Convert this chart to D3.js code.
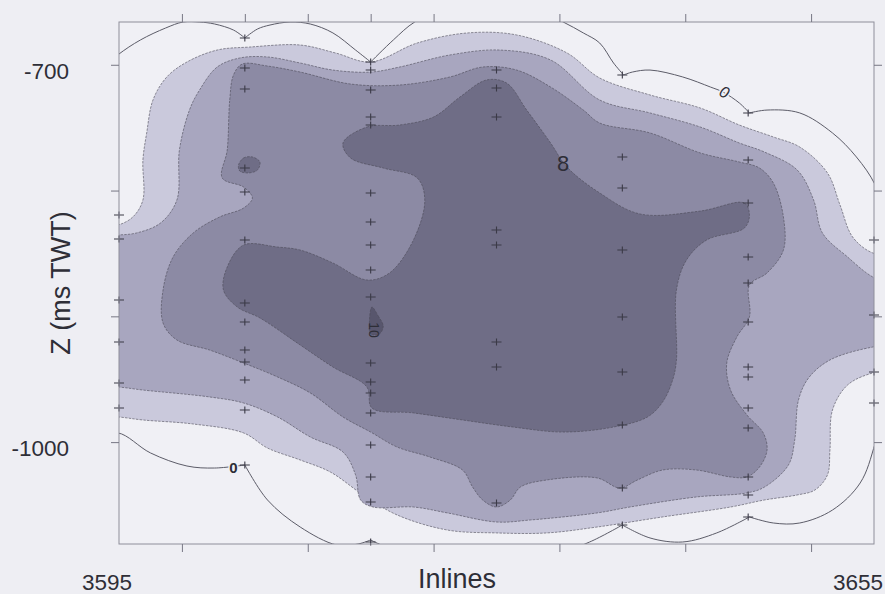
<!DOCTYPE html>
<html>
<head>
<meta charset="utf-8">
<script src="https://cdn.jsdelivr.net/npm/d3@7"></script>
<style>
  html, body { margin: 0; padding: 0; background: #eeeef3; }
  svg { display: block; }
  text { font-family: "Liberation Sans", Arial, Helvetica, sans-serif; fill: #2e2e37; }
</style>
</head>
<body>
<svg id="chart" width="885" height="594"></svg>
<script>
// ---- axes ----
const inlineDomain = [3595, 3655];
const twtDomain = [-1081, -666];
const xEndLabels = [3595, 3655];
const xTicks = [3600, 3610, 3620, 3630, 3640, 3650];
const xTopTicks = [3600, 3605, 3610, 3615, 3620, 3630, 3640, 3650];
const yTicks = [-700, -800, -900, -1000];
const yTickLabels = [-700, -1000];
const xTitle = "Inlines";
const yTitle = "Z (ms TWT)";

// ---- contour outlines, [inline, TWT ms] ----
const contour2 = [
  [3593.5,-980.0],[3594.9,-980.0],[3596.9,-982.4],[3600.9,-985.6],[3604.9,-992.7],[3606.8,-1004.7],
  [3609.4,-1014.2],[3611.8,-1023.8],[3614.4,-1042.0],[3617.1,-1057.9],[3621.1,-1069.9],[3625.0,-1072.2],
  [3629.0,-1072.2],[3633.0,-1067.5],[3638.2,-1059.5],[3643.6,-1051.6],[3646.3,-1046.0],[3648.9,-1042.0],
  [3650.3,-1038.1],[3651.3,-1026.1],[3651.5,-1006.3],[3651.7,-974.5],[3652.9,-954.6],[3654.9,-945.0],
  [3656.7,-942.7],[3656.7,-851.2],[3654.9,-849.6],[3653.3,-836.9],[3652.3,-811.5],[3651.3,-786.0],
  [3649.1,-765.4],[3647.0,-757.4],[3644.3,-747.9],[3641.2,-734.4],[3637.2,-724.0],[3633.2,-710.5],
  [3630.6,-690.6],[3626.6,-676.3],[3622.7,-674.7],[3618.7,-682.7],[3615.0,-697.8],[3612.2,-690.6],
  [3609.4,-684.3],[3605.4,-685.9],[3602.8,-688.3],[3600.4,-697.8],[3598.8,-709.7],[3597.7,-728.0],
  [3597.2,-754.2],[3596.9,-775.7],[3596.9,-807.5],[3596.1,-821.0],[3594.9,-827.4],[3593.5,-827.4]
];
const contour4 = [
  [3592.7,-956.2],[3594.9,-956.2],[3596.9,-958.6],[3602.2,-964.1],[3604.9,-968.9],[3607.6,-980.0],
  [3610.2,-995.9],[3612.8,-1007.9],[3613.8,-1026.1],[3614.2,-1046.0],[3615.2,-1051.6],[3618.4,-1051.6],
  [3621.1,-1056.3],[3625.0,-1063.5],[3627.7,-1061.9],[3633.0,-1056.3],[3635.6,-1051.6],[3640.9,-1043.6],
  [3644.9,-1040.4],[3646.3,-1035.7],[3648.2,-1018.2],[3648.7,-998.3],[3649.0,-966.5],[3649.8,-949.0],
  [3651.5,-934.7],[3654.9,-924.4],[3656.7,-922.8],[3656.7,-875.1],[3654.9,-868.7],[3652.9,-852.8],
  [3650.9,-833.7],[3650.2,-807.5],[3648.9,-783.7],[3646.3,-769.4],[3644.3,-762.2],[3641.2,-749.5],
  [3637.2,-738.3],[3633.2,-728.0],[3629.3,-696.2],[3625.3,-688.3],[3621.3,-692.2],[3617.3,-701.8],
  [3615.0,-705.8],[3612.0,-704.2],[3609.4,-698.6],[3606.8,-693.8],[3604.6,-694.6],[3602.8,-701.8],
  [3601.4,-720.1],[3600.6,-736.0],[3599.8,-767.8],[3599.6,-807.5],[3598.3,-825.8],[3596.4,-833.7],
  [3594.9,-835.3],[3592.7,-835.3]
];
const contour6 = [
  [3603.6,-767.8],[3603.8,-728.0],[3604.1,-708.1],[3604.8,-699.4],[3606.8,-701.0],[3609.4,-705.8],
  [3613.4,-715.3],[3617.3,-716.1],[3621.3,-709.7],[3623.9,-701.8],[3626.6,-704.2],[3629.3,-717.7],
  [3631.9,-736.0],[3633.2,-746.3],[3637.2,-754.2],[3641.2,-770.1],[3644.3,-777.3],[3645.9,-782.1],
  [3647.0,-794.0],[3647.8,-821.0],[3647.8,-847.3],[3646.5,-865.5],[3645.1,-875.1],[3645.1,-900.5],
  [3644.1,-916.4],[3643.3,-937.1],[3643.6,-958.6],[3644.9,-978.4],[3646.2,-992.7],[3646.5,-1006.3],
  [3645.9,-1019.8],[3644.9,-1027.7],[3643.6,-1027.7],[3640.9,-1022.2],[3638.2,-1022.2],[3636.2,-1030.1],
  [3634.8,-1036.5],[3633.0,-1028.5],[3629.0,-1030.1],[3626.9,-1035.7],[3626.1,-1046.0],[3625.0,-1051.6],
  [3623.9,-1046.0],[3623.1,-1035.7],[3622.3,-1022.2],[3619.7,-1011.8],[3617.1,-1003.9],[3615.0,-992.0],
  [3612.8,-980.0],[3610.2,-960.9],[3607.6,-948.2],[3604.9,-937.1],[3602.2,-926.8],[3599.6,-918.8],
  [3598.5,-905.3],[3598.5,-879.1],[3599.3,-852.8],[3600.9,-833.7],[3603.0,-821.0],[3604.9,-813.9],
  [3605.6,-805.9],[3604.9,-797.2],[3603.2,-790.0]
];
const contour8 = [
  [3612.8,-762.2],[3614.7,-749.5],[3617.3,-747.9],[3620.0,-741.5],[3622.1,-725.6],[3624.2,-712.1],
  [3625.8,-714.5],[3627.4,-736.0],[3629.3,-762.2],[3630.6,-781.3],[3633.2,-801.9],[3636.4,-818.6],
  [3641.2,-816.3],[3644.7,-809.9],[3645.1,-819.4],[3644.7,-829.8],[3641.7,-839.3],[3640.1,-855.2],
  [3639.3,-879.1],[3639.3,-934.7],[3639.0,-950.6],[3638.2,-968.1],[3637.0,-980.0],[3634.3,-988.0],
  [3630.3,-992.0],[3626.3,-988.0],[3622.3,-982.4],[3618.4,-976.8],[3615.1,-972.9],[3614.7,-956.2],
  [3612.0,-940.3],[3609.4,-922.8],[3606.2,-901.3],[3604.4,-892.6],[3603.3,-879.1],[3603.6,-860.8],
  [3604.9,-843.3],[3607.6,-844.9],[3609.4,-847.3],[3612.0,-857.6],[3614.7,-871.1],[3616.5,-865.5],
  [3618.4,-839.3],[3619.3,-807.5],[3618.7,-790.0],[3616.0,-782.1],[3613.4,-774.1]
];
const contour8b = [
  [3604.5,-779.7],[3604.9,-774.1],[3605.6,-773.3],[3606.2,-777.3],[3606.0,-783.7],[3605.3,-786.0],[3604.6,-784.5]
];
const contour10 = [
  [3615.1,-892.6],[3615.6,-899.7],[3616.0,-907.7],[3615.7,-914.0],[3615.0,-914.0],[3614.9,-904.5]
];

// zero contour, drawn as arcs that meet at sample points
const zeroContour = [
  [[3593.1,-998.3],[3594.9,-992.7],[3597.5,-1008.6],[3600.4,-1019.0],[3602.6,-1020.6],[3605.0,-1018.2]],
  [[3605.0,-1018.2],[3606.8,-1046.0],[3609.4,-1067.5],[3612.3,-1081.8],[3614.0,-1081.0],[3615.0,-1077.8]],
  [[3615.0,-1077.8],[3616.1,-1082.6],[3618.9,-1087.4],[3630.0,-1087.4],[3632.4,-1079.4],[3635.0,-1065.9]],
  [[3635.0,-1065.9],[3637.2,-1076.2],[3639.8,-1079.4],[3642.5,-1072.2],[3645.1,-1059.5]],
  [[3645.1,-1059.5],[3647.0,-1064.3],[3649.1,-1064.3],[3651.7,-1054.0],[3653.9,-1032.5],[3655.1,-1000.7],
   [3656.3,-950.6],[3656.7,-887.0],[3656.3,-831.4],[3655.1,-795.6],[3653.6,-773.3],[3651.7,-754.2],
   [3649.1,-738.3],[3646.5,-736.0],[3645.1,-738.3]],
  [[3645.1,-738.3],[3644.3,-730.4],[3643.0,-721.7],[3642.0,-717.7],[3639.8,-709.7],[3637.2,-704.2],
   [3635.8,-705.8],[3635.1,-708.1]],
  [[3635.1,-708.1],[3634.3,-698.6],[3633.2,-682.7],[3631.9,-674.7],[3630.3,-666.0],[3628.5,-658.0],
   [3620.5,-658.0],[3618.5,-666.0],[3616.8,-680.3],[3615.0,-697.8]],
  [[3615.0,-697.8],[3613.8,-688.3],[3612.0,-674.7],[3610.2,-667.6],[3608.6,-666.0],[3607.0,-668.4],
   [3606.0,-671.6],[3605.0,-678.7]],
  [[3605.0,-678.7],[3604.1,-672.4],[3602.6,-667.6],[3601.4,-666.0],[3600.1,-666.0],[3598.7,-670.8],
   [3596.7,-680.3],[3594.9,-692.2],[3593.1,-708.1]]
];

// sample points along the interpreted inlines
const sampleInlines = [3595, 3605, 3615, 3625, 3635, 3645, 3655];
const sampleTwt = [
  [-819.4,-838.5,-887.0,-920.4,-953.0,-972.9],
  [-678.7,-702.6,-719.3,-782.1,-801.2,-839.3,-889.4,-904.5,-926.8,-936.3,-950.6,-974.5,-1018.2],
  [-697.8,-704.2,-720.1,-741.5,-747.9,-801.9,-825.0,-843.3,-863.2,-884.6,-937.1,-952.2,-960.9,-976.8,-1002.3,-1027.7,-1047.6,-1079.4],
  [-704.2,-718.5,-741.5,-831.4,-843.3,-920.4,-940.3,-1048.4],
  [-708.1,-773.3,-798.0,-847.3,-900.5,-944.3,-986.4,-1036.5,-1065.9],
  [-738.3,-775.7,-809.9,-852.8,-873.5,-904.5,-940.3,-948.2,-972.9,-988.8,-1027.7,-1042.0,-1059.5],
  [-839.3,-898.9,-944.3,-968.9]
];

// contour value labels
const labelText = ["0", "0", "8", "10"];
const labelInline = [3604.1, 3643.1, 3630.3, 3615.3];
const labelTwt = [-1019.8, -721.7, -778.1, -910.9];

// ---- drawing ----
const plot = { left: 119, right: 874, top: 22, bottom: 544 };
const svg = d3.select("#chart");

const x = d3.scaleLinear().domain(inlineDomain).range([plot.left, plot.right]);
const y = d3.scaleLinear().domain(twtDomain).range([plot.bottom, plot.top]);

svg.append("rect").attr("width", 885).attr("height", 594).attr("fill", "#eeeef3");

svg.append("defs").append("clipPath").attr("id", "plotClip")
  .append("rect")
  .attr("x", plot.left).attr("y", plot.top)
  .attr("width", plot.right - plot.left).attr("height", plot.bottom - plot.top);

const area = svg.append("g").attr("clip-path", "url(#plotClip)");

area.append("rect")
  .attr("x", plot.left).attr("y", plot.top)
  .attr("width", plot.right - plot.left).attr("height", plot.bottom - plot.top)
  .attr("fill", "#f0f0f5");

const closedLine = d3.line()
  .x(d => x(d[0])).y(d => y(d[1]))
  .curve(d3.curveCatmullRomClosed.alpha(0.5));

const bands = [
  { pts: contour2,  fill: "#cac9dc" },
  { pts: contour4,  fill: "#a8a6bf" },
  { pts: contour6,  fill: "#8c8aa4" },
  { pts: contour8,  fill: "#6f6d86" },
  { pts: contour8b, fill: "#6f6d86" },
  { pts: contour10, fill: "#58566d" }
];

area.selectAll("path.band")
  .data(bands)
  .join("path")
  .attr("class", "band")
  .attr("d", d => closedLine(d.pts))
  .attr("fill", d => d.fill)
  .attr("stroke", "#4b4a58")
  .attr("stroke-width", 0.8)
  .attr("stroke-dasharray", "2.5,1.2")
  .attr("stroke-opacity", 0.75);

const openLine = d3.line()
  .x(d => x(d[0])).y(d => y(d[1]))
  .curve(d3.curveCatmullRom.alpha(0.5));

area.selectAll("path.zero")
  .data(zeroContour)
  .join("path")
  .attr("class", "zero")
  .attr("d", openLine)
  .attr("fill", "none")
  .attr("stroke", "#5c5c68")
  .attr("stroke-width", 1);

// sample crosses
const marks = svg.append("g").attr("stroke", "#3b3a47").attr("stroke-width", 1.1);
sampleInlines.forEach((il, i) => {
  sampleTwt[i].forEach(t => {
    const px = x(il), py = y(t);
    marks.append("path").attr("d", `M${px - 5},${py}H${px + 5}M${px},${py - 3.5}V${py + 3.5}`);
  });
});

// contour labels
const labelStyle = [
  { size: 15, weight: "bold", style: "normal", rot: 0 },
  { size: 16, weight: "normal", style: "italic", rot: 25 },
  { size: 22, weight: "normal", style: "normal", rot: 0 },
  { size: 14, weight: "normal", style: "normal", rot: 90 }
];
labelText.forEach((txt, i) => {
  const s = labelStyle[i];
  svg.append("text")
    .attr("transform", `translate(${x(labelInline[i])},${y(labelTwt[i])}) rotate(${s.rot})`)
    .attr("text-anchor", "middle")
    .attr("dominant-baseline", "central")
    .attr("font-size", s.size)
    .attr("font-weight", s.weight)
    .attr("font-style", s.style)
    .style("paint-order", "stroke")
    .attr("stroke", i === 2 || i === 3 ? "none" : "#f0f0f5")
    .attr("stroke-width", 3)
    .text(txt);
});

// frame and ticks
svg.append("rect")
  .attr("x", plot.left).attr("y", plot.top)
  .attr("width", plot.right - plot.left).attr("height", plot.bottom - plot.top)
  .attr("fill", "none").attr("stroke", "#8e8e9a").attr("stroke-width", 1);

function styleAxis(g) {
  g.select(".domain").remove();
  g.selectAll(".tick line").attr("stroke", "#777784").attr("stroke-width", 1);
  g.selectAll(".tick text").remove();
}
svg.append("g").attr("transform", `translate(0,${plot.bottom})`)
  .call(d3.axisBottom(x).tickValues(xTicks).tickSize(8).tickFormat(""))
  .call(styleAxis);
svg.append("g").attr("transform", `translate(0,${plot.top})`)
  .call(d3.axisTop(x).tickValues(xTopTicks).tickSize(8).tickFormat(""))
  .call(styleAxis);
svg.append("g").attr("transform", `translate(${plot.left},0)`)
  .call(d3.axisLeft(y).tickValues(yTicks).tickSize(8).tickFormat(""))
  .call(styleAxis);
svg.append("g").attr("transform", `translate(${plot.right},0)`)
  .call(d3.axisRight(y).tickValues(yTicks).tickSize(8).tickFormat(""))
  .call(styleAxis);

// tick labels
svg.selectAll("text.ylab")
  .data(yTickLabels)
  .join("text")
  .attr("class", "ylab")
  .attr("x", 69)
  .attr("y", d => y(d) + 14)
  .attr("text-anchor", "end")
  .attr("font-size", 22.5)
  .text(d => d);

// end labels of the inline range: first centred under its edge, last kept inside the page
svg.selectAll("text.xlab")
  .data(xEndLabels)
  .join("text")
  .attr("class", "xlab")
  .attr("x", (d, i) => i === 0 ? x(d) - 12 : 883)
  .attr("y", 590)
  .attr("text-anchor", (d, i) => i === 0 ? "middle" : "end")
  .attr("font-size", 22.5)
  .text(d => d);

// axis titles
svg.append("text")
  .attr("x", 457).attr("y", 588)
  .attr("text-anchor", "middle")
  .attr("font-size", 27)
  .text(xTitle);

svg.append("text")
  .attr("transform", "translate(70,283) rotate(-90)")
  .attr("text-anchor", "middle")
  .attr("font-size", 27)
  .text(yTitle);
</script>
</body>
</html>
